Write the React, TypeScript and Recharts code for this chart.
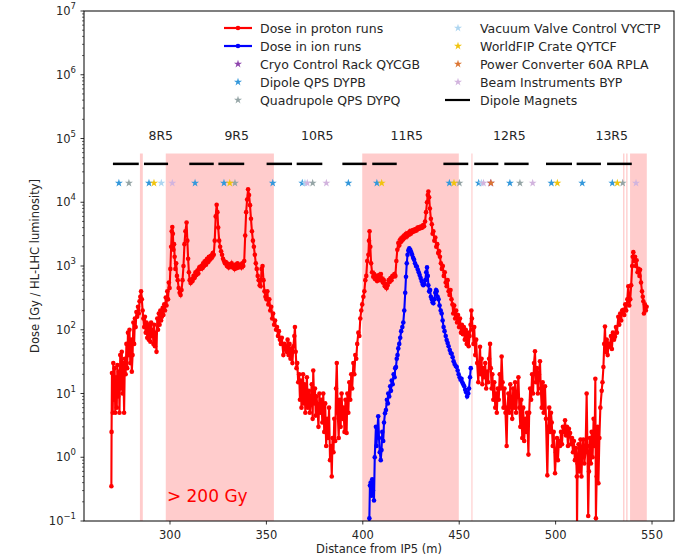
import { ComposedChart, Line, Scatter, XAxis, YAxis, ReferenceArea, ReferenceDot, Symbols } from "recharts";

// measured dose along the beam line, [distance from IP5 (m), dose (Gy / HL-LHC luminosity)]
const protonRuns: [number, number][] = [
  [269.6, 0.35], [269.7, 2.5], [269.9, 21], [270.3, 5], [270.6, 30], [271.0, 8], [271.3, 25], [271.6, 5],
  [272.0, 18], [272.4, 6], [272.7, 28], [273.1, 9], [273.5, 22], [273.8, 5], [274.2, 40], [274.6, 12],
  [275.0, 45], [275.4, 10], [275.8, 30], [276.2, 5], [276.6, 35], [277.0, 20], [277.4, 60], [277.8, 25],
  [278.2, 90], [278.6, 40], [279.0, 100], [279.4, 30], [279.8, 70], [280.2, 22], [280.6, 40], [281.0, 130],
  [281.4, 60], [281.8, 150], [282.2, 110], [282.6, 190], [283.0, 160], [283.4, 230], [283.8, 180], [284.2, 280],
  [284.6, 330], [285.0, 400], [285.4, 300], [285.8, 200], [286.2, 150], [286.6, 110], [287.0, 160], [287.4, 90],
  [287.8, 130], [288.2, 75], [288.6, 120], [289.0, 70], [289.4, 110], [289.8, 65], [290.2, 130], [290.6, 80],
  [291.0, 100], [291.4, 60], [291.8, 120], [292.2, 55], [292.6, 90], [293.0, 45], [293.4, 150], [293.8, 100],
  [294.2, 180], [294.6, 120], [295.0, 200], [295.4, 140], [295.8, 160], [296.2, 220], [296.6, 170], [297.0, 250],
  [297.4, 200], [297.8, 320], [298.2, 240], [298.6, 400], [299.0, 300], [299.4, 550], [299.8, 450], [300.2, 900],
  [300.6, 2000], [300.9, 3500], [301.2, 4100], [301.5, 3200], [301.8, 1800], [302.1, 2200], [302.4, 1400], [302.8, 900],
  [303.2, 1100], [303.6, 700], [304.0, 600], [304.5, 450], [305.0, 380], [305.5, 350], [306.0, 420], [306.5, 600],
  [307.0, 1000], [307.5, 2200], [308.0, 3500], [308.6, 4800], [309.0, 2500], [309.4, 1300], [309.8, 800], [310.2, 600],
  [310.7, 540], [311.2, 620], [311.7, 580], [312.2, 700], [312.7, 650], [313.2, 800], [313.7, 720], [314.2, 850],
  [314.7, 760], [315.2, 950], [315.7, 900], [316.2, 1000], [316.7, 920], [317.2, 1100], [317.7, 1000], [318.2, 1200],
  [318.7, 1050], [319.2, 1300], [319.7, 1150], [320.2, 1400], [320.7, 1250], [321.2, 1450], [321.7, 1350], [322.2, 1600],
  [322.7, 1500], [323.2, 2500], [323.7, 6000], [324.2, 9100], [324.6, 7000], [325.0, 4000], [325.5, 2500], [326.0, 2000],
  [326.5, 1700], [327.0, 1500], [327.5, 1300], [328.0, 1200], [328.5, 1100], [329.0, 1150], [329.5, 1000], [330.0, 1080],
  [330.5, 950], [331.0, 1050], [331.5, 980], [332.0, 1100], [332.5, 950], [333.0, 1000], [333.5, 900], [334.0, 1050],
  [334.5, 920], [335.0, 1100], [335.5, 950], [336.0, 1000], [336.5, 1050], [337.0, 950], [337.5, 1100], [338.0, 1000],
  [338.5, 1200], [339.0, 3000], [339.5, 7000], [340.0, 11000], [340.5, 16000], [341.0, 13000], [341.5, 9000], [342.0, 5500],
  [342.5, 3500], [343.0, 2500], [343.5, 2000], [344.0, 1500], [344.5, 1100], [345.0, 900], [345.5, 700], [346.0, 600],
  [346.5, 500], [347.0, 480], [347.5, 900], [348.0, 1000], [348.5, 600], [349.0, 400], [349.5, 330], [350.0, 300],
  [350.5, 400], [351.0, 250], [351.5, 300], [352.0, 200], [352.5, 230], [353.0, 150], [353.5, 180], [354.0, 120],
  [354.5, 140], [355.0, 100], [355.5, 110], [356.0, 80], [356.5, 95], [357.0, 70], [357.5, 60], [358.0, 75],
  [358.8, 40], [359.3, 60], [359.8, 50], [360.0, 55], [360.5, 45], [361.0, 70], [361.5, 40], [362.0, 60],
  [362.5, 35], [363.0, 50], [363.5, 30], [364.0, 55], [364.5, 80], [364.8, 110], [365.2, 45], [365.6, 25],
  [366.0, 30], [366.5, 15], [367.0, 20], [367.4, 8], [367.8, 16], [368.2, 6], [368.6, 12], [369.0, 20],
  [369.4, 7], [369.8, 14], [370.2, 5], [370.6, 9], [371.0, 18], [371.5, 6], [372.0, 11], [372.5, 5],
  [373.0, 8], [373.5, 14], [374.0, 4], [374.3, 23], [374.8, 7], [375.2, 12], [375.6, 4.5], [376.0, 9],
  [376.5, 6], [377.0, 3], [377.5, 10], [378.0, 5], [378.5, 8], [379.0, 3.5], [379.5, 10], [380.0, 2.5],
  [380.5, 7], [381.0, 1.5], [381.5, 4], [382.0, 2], [382.5, 6], [383.0, 0.9], [383.5, 1.5], [383.9, 0.5],
  [384.3, 2], [384.8, 1.2], [385.2, 4], [385.7, 1.8], [386.1, 12], [386.5, 30], [387.0, 5], [387.5, 2],
  [388.0, 8], [388.5, 3], [389.0, 10], [389.5, 4], [390.0, 6], [390.5, 2.5], [391.0, 8], [391.6, 2.4],
  [392.0, 10], [392.5, 5], [393.0, 15], [393.5, 8], [394.0, 20], [394.5, 12], [395.1, 30], [395.6, 20],
  [396.1, 40], [396.6, 35], [397.1, 60], [397.7, 90], [398.2, 80], [398.7, 150], [399.2, 200], [399.7, 250],
  [400.3, 330], [400.8, 400], [401.3, 600], [401.8, 700], [402.3, 1200], [402.9, 1500], [403.2, 2500], [403.5, 3500],
  [403.9, 2000], [404.3, 1100], [404.8, 800], [405.4, 680], [405.9, 750], [406.4, 620], [406.9, 700], [407.4, 580],
  [407.9, 660], [408.4, 720], [408.9, 600], [409.4, 750], [409.9, 640], [410.4, 550], [410.9, 600], [411.4, 480],
  [411.9, 520], [412.4, 450], [412.9, 500], [413.4, 600], [413.9, 560], [414.4, 650], [414.9, 600], [415.4, 700],
  [415.9, 680], [416.4, 750], [416.9, 700], [417.4, 1200], [417.9, 1800], [418.4, 2300], [418.9, 2100], [419.4, 2600],
  [419.9, 2400], [420.4, 2800], [420.9, 2600], [421.4, 3000], [421.9, 2800], [422.4, 3200], [422.9, 2900], [423.4, 3300],
  [423.9, 3100], [424.4, 3500], [424.9, 3200], [425.4, 3600], [425.9, 3400], [426.4, 3700], [426.9, 3500], [427.4, 3800],
  [427.9, 3600], [428.4, 4000], [428.9, 3800], [429.4, 4100], [429.9, 3900], [430.4, 4200], [430.9, 4000], [431.3, 4400],
  [431.8, 4200], [432.3, 5000], [432.8, 7000], [433.3, 10000], [433.7, 13000], [434.0, 14700], [434.4, 12000], [434.8, 8000],
  [435.3, 5500], [435.8, 4500], [436.2, 3200], [436.6, 3500], [437.1, 2500], [437.6, 2800], [438.1, 2000], [438.6, 2200],
  [439.1, 1600], [439.6, 1700], [440.0, 1400], [440.5, 1100], [441.0, 900], [441.5, 1000], [442.0, 700], [442.5, 800],
  [443.0, 550], [443.5, 480], [444.0, 600], [444.5, 400], [445.0, 350], [445.5, 420], [446.0, 300], [446.5, 250],
  [446.9, 180], [447.4, 240], [447.9, 150], [448.4, 200], [448.9, 130], [449.4, 170], [449.9, 110], [450.4, 150],
  [450.9, 90], [451.4, 120], [451.9, 85], [452.4, 110], [452.9, 70], [453.4, 100], [453.9, 60], [454.4, 90],
  [454.9, 55], [455.4, 80], [455.9, 120], [456.3, 200], [456.6, 150], [457.0, 100], [457.4, 60], [457.8, 110],
  [458.3, 40], [458.8, 70], [459.3, 30], [459.9, 15], [460.3, 30], [460.8, 54], [461.2, 20], [461.6, 35],
  [462.0, 14], [462.5, 25], [463.0, 18], [463.5, 30], [464.0, 12], [464.5, 22], [465.0, 15], [465.5, 35],
  [466.0, 60], [466.4, 25], [466.8, 12], [467.2, 20], [467.7, 8], [468.2, 15], [468.7, 6], [469.2, 10],
  [469.5, 5], [470.0, 12], [470.5, 8], [471.0, 20], [471.5, 12], [472.0, 38], [472.5, 15], [473.0, 6],
  [473.5, 12], [474.0, 5], [474.6, 1.5], [475.0, 6], [475.5, 10], [476.0, 5], [476.5, 14], [477.0, 7],
  [477.5, 4], [478.0, 12], [478.5, 6], [479.0, 15], [479.5, 5], [480.0, 9], [480.7, 18], [481.2, 6],
  [481.7, 3], [482.2, 8], [482.7, 2], [483.2, 6], [483.7, 1.8], [484.2, 4], [484.7, 2.5], [485.2, 5],
  [485.9, 1.1], [486.3, 5], [486.8, 12], [487.3, 8], [487.8, 20], [488.3, 10], [488.8, 30], [489.3, 46],
  [489.8, 15], [490.3, 25], [490.8, 10], [491.3, 20], [491.9, 32], [492.3, 12], [492.8, 6], [493.3, 15],
  [493.8, 5], [494.5, 13], [495.0, 4], [495.7, 0.52], [496.2, 3], [496.7, 6], [497.2, 2.5], [497.6, 5],
  [498.0, 3.5], [498.5, 1.5], [499.0, 2.5], [499.7, 0.56], [500.2, 1.2], [500.7, 2], [501.2, 0.9], [501.7, 1.8],
  [502.3, 1.5], [502.8, 2.5], [503.3, 1.6], [503.8, 3], [504.3, 2.5], [504.9, 3.8], [505.4, 2.2], [505.9, 3],
  [506.4, 1.5], [506.9, 2.8], [507.5, 2.4], [508.0, 1.6], [508.5, 2], [509.0, 1.2], [509.5, 1.8], [510.0, 0.9],
  [510.5, 1.4], [511.0, 0.5], [511.1, 0.07], [511.4, 0.8], [511.9, 1.6], [512.4, 0.6], [512.9, 1.9], [513.4, 0.5],
  [513.9, 1.4], [514.4, 1.9], [514.9, 0.8], [515.5, 1.2], [516.1, 10], [516.5, 1.5], [516.9, 0.12], [517.3, 0.6],
  [517.8, 2], [518.3, 0.8], [518.7, 2.5], [519.2, 1], [519.7, 4], [520.2, 1.5], [520.6, 17], [520.9, 0.11],
  [521.3, 0.5], [521.8, 3], [522.2, 0.39], [522.7, 2], [523.2, 6], [523.9, 11], [524.3, 15], [524.8, 26],
  [525.2, 60], [525.6, 112], [526.0, 45], [526.5, 70], [527.0, 40], [527.5, 60], [528.2, 54], [528.7, 80],
  [529.2, 50], [529.7, 90], [530.3, 70], [530.8, 78], [531.3, 110], [531.8, 90], [532.5, 160], [533.0, 120],
  [533.5, 180], [534.0, 140], [534.5, 200], [535.1, 205], [535.6, 170], [536.1, 250], [536.6, 200], [537.2, 300],
  [537.7, 480], [538.2, 240], [538.7, 300], [539.2, 500], [539.7, 1000], [540.0, 1400], [540.3, 1650], [540.7, 1200],
  [541.2, 1400], [541.6, 1000], [542.0, 1230], [542.5, 800], [543.0, 900], [543.5, 700], [543.8, 870], [544.3, 550],
  [544.8, 400], [545.2, 330], [545.5, 280], [545.8, 180], [546.3, 250], [546.8, 200], [547.2, 230],
];

const ionRuns: [number, number][] = [
  [403.3, 0.09], [403.4, 0.11], [403.7, 0.36], [404.1, 0.4], [404.5, 0.25], [404.9, 0.45], [405.3, 0.3], [405.8, 0.21],
  [406.2, 1.0], [406.8, 3], [407.1, 1.5], [407.5, 2.5], [408.0, 4.4], [408.4, 2], [408.8, 1.2], [409.3, 0.9],
  [409.7, 1.3], [410.1, 2.5], [410.6, 1.8], [411.0, 3.5], [411.5, 4.9], [412.0, 5.5], [412.5, 8], [413.0, 7],
  [413.2, 10], [413.7, 9], [414.2, 13], [414.6, 11], [415.0, 16], [415.5, 14], [416.0, 20], [416.5, 18],
  [416.8, 25], [417.2, 26], [417.6, 35], [418.0, 40], [418.4, 51], [418.9, 60], [419.4, 75], [419.9, 95],
  [420.5, 110], [421.0, 130], [421.5, 200], [422.0, 380], [422.4, 680], [422.8, 1100], [423.2, 1500], [423.6, 1750],
  [424.1, 1900], [424.6, 1800], [425.1, 1650], [425.6, 1500], [426.1, 1350], [426.6, 1250], [427.1, 1100], [427.6, 1000],
  [428.0, 980], [428.5, 880], [429.0, 800], [429.5, 720], [430.0, 650], [430.5, 580], [431.0, 520], [431.4, 500],
  [431.9, 520], [432.4, 600], [432.9, 800], [433.3, 950], [433.7, 700], [434.0, 500], [434.4, 400], [434.9, 420],
  [435.3, 330], [435.8, 300], [436.2, 270], [436.6, 260], [437.1, 300], [437.6, 380], [438.0, 420], [438.3, 400],
  [438.8, 330], [439.3, 300], [439.8, 240], [440.4, 200], [440.9, 180], [441.4, 140], [441.9, 110], [442.4, 95],
  [443.0, 80], [443.5, 69], [444.0, 62], [444.5, 55], [445.1, 48], [445.6, 43], [446.1, 42], [446.6, 37],
  [447.1, 32], [447.6, 29], [448.2, 27], [448.7, 26], [449.2, 23], [449.7, 20], [450.2, 18], [450.7, 16.5],
  [451.2, 17], [451.6, 15], [452.1, 14], [452.6, 13], [453.1, 11.5], [453.6, 10.5], [454.1, 9], [454.7, 10],
  [455.1, 12], [455.6, 18], [456.0, 25],
];

// "> 200 Gy" zones
const hotZones: [number, number][] = [
  [284.4, 285.9], [297.8, 353.9], [399.7, 449.8], [456.3, 456.9], [535.0, 535.7], [536.6, 537.3], [538.6, 547.3],
];
const hotZoneTop = 5.8e4;

// dipole magnets, [start, end]
const magnetLevel = 4e4;
const dipoleMagnets: [number, number][] = [
  [270.4, 283.8], [286.5, 299.0], [310.0, 322.7], [325.1, 338.5], [350.1, 363.3], [365.7, 379.0], [389.4, 402.0],
  [404.9, 417.6], [441.8, 454.7], [457.8, 470.3], [473.4, 486.0], [495.0, 508.5], [510.9, 523.5], [526.7, 539.5],
];

const cellLabels = ["8R5", "9R5", "10R5", "11R5", "12R5", "13R5"];
const cellCentres = [295.2, 334.6, 376.4, 422.8, 476.0, 529.1];
const cellLabelLevel = 1.13e5;

// electronics positions
const equipLevel = 2e4;
const cryoRack = [466.3];
const dipoleQps = [273.5, 289.1, 313.0, 328.0, 353.3, 368.6, 392.5, 407.3, 444.9, 460.1, 476.3, 497.8, 513.8, 529.4];
const quadQps = [278.7, 333.7, 374.0, 450.1, 481.5, 534.8];
const vacuumValve = [295.5, 370.0, 461.5];
const worldFip = [291.7, 331.0, 409.8, 447.3, 500.9, 532.0];
const powerConverter = [466.5];
const beamInstr = [301.2, 371.2, 381.1, 462.6, 488.1, 541.7];

const xTicks = [300, 350, 400, 450, 500, 550];
const decades = [-1, 0, 1, 2, 3, 4, 5, 6, 7];

const RED = "#ff0000";
const BLUE = "#0000ff";
const C_CRYO = "#8e44ad";
const C_DYPB = "#3498db";
const C_DYPQ = "#95a5a6";
const C_VAC = "#aed6f1";
const C_FIP = "#f1c40f";
const C_RPLA = "#dc7633";
const C_BYP = "#d2b4de";

const FONT = "DejaVu Sans";

const yTicks: number[] = [];
decades.forEach((d) => {
  yTicks.push(Math.pow(10, d));
  if (d < 7) for (let m = 2; m <= 9; m++) yTicks.push(m * Math.pow(10, d));
});

const toPts = (arr: [number, number][]) => arr.map(([pos, dose]) => ({ pos, dose }));
const starPts = (arr: number[]) => arr.map((pos) => ({ pos, dose: equipLevel }));

const YTick = (props: any) => {
  const { x, y, payload } = props;
  const v = payload.value;
  const lg = Math.log10(v);
  const major = Math.abs(lg - Math.round(lg)) < 1e-6;
  if (!major) return <line x1={x - 2} x2={x} y1={y} y2={y} stroke="#000" strokeWidth={0.6} />;
  const e = Math.round(lg);
  return (
    <g>
      <line x1={x - 3.5} x2={x} y1={y} y2={y} stroke="#000" strokeWidth={0.8} />
      <text x={x - 8} y={y + 4} textAnchor="end" fontFamily={FONT} fontSize={11.5} fill="#262626">
        <tspan>10</tspan>
        <tspan dy={-6} fontSize={8.5}>{e < 0 ? "\u2212" + -e : String(e)}</tspan>
      </text>
    </g>
  );
};

const XTick = (props: any) => {
  const { x, y, payload } = props;
  return (
    <g>
      <line x1={x} x2={x} y1={y} y2={y + 3.5} stroke="#000" strokeWidth={0.8} />
      <text x={x} y={y + 18} textAnchor="middle" fontFamily={FONT} fontSize={11.5} fill="#262626">
        {payload.value}
      </text>
    </g>
  );
};

const star = (color: string) => (p: any) => <Symbols cx={p.cx} cy={p.cy} type="star" size={20} fill={color} />;

const starSeries: [number[], string][] = [
  [cryoRack, C_CRYO],
  [dipoleQps, C_DYPB],
  [quadQps, C_DYPQ],
  [vacuumValve, C_VAC],
  [worldFip, C_FIP],
  [powerConverter, C_RPLA],
  [beamInstr, C_BYP],
];

const legendLeft = [
  { label: "Dose in proton runs", color: RED, kind: "line" },
  { label: "Dose in ion runs", color: BLUE, kind: "line" },
  { label: "Cryo Control Rack QYCGB", color: C_CRYO, kind: "star" },
  { label: "Dipole QPS DYPB", color: C_DYPB, kind: "star" },
  { label: "Quadrupole QPS DYPQ", color: C_DYPQ, kind: "star" },
];
const legendRight = [
  { label: "Vacuum Valve Control VYCTP", color: C_VAC, kind: "star" },
  { label: "WorldFIP Crate QYTCF", color: C_FIP, kind: "star" },
  { label: "Power Converter 60A RPLA", color: C_RPLA, kind: "star" },
  { label: "Beam Instruments BYP", color: C_BYP, kind: "star" },
  { label: "Dipole Magnets", color: "#000", kind: "bar" },
];

const LegendItem = ({ item, x, y }: any) => (
  <g>
    {item.kind === "line" && (
      <g>
        <line x1={x - 14} x2={x + 14} y1={y} y2={y} stroke={item.color} strokeWidth={2.2} />
        <circle cx={x} cy={y} r={2.3} fill={item.color} />
      </g>
    )}
    {item.kind === "star" && <Symbols cx={x} cy={y} type="star" size={20} fill={item.color} />}
    {item.kind === "bar" && <line x1={x - 13} x2={x + 12} y1={y} y2={y} stroke="#000" strokeWidth={2.2} />}
    <text x={x + 22} y={y + 4.5} fontFamily={FONT} fontSize={12.5} fill="#262626">
      {item.label}
    </text>
  </g>
);

export default function App() {
  return (
    <div style={{ position: "absolute", left: 0, top: 0, width: 690, height: 559, background: "#fff" }}>
      <ComposedChart width={690} height={559} margin={{ top: 11, right: 16, left: 0, bottom: 0 }}>
        <XAxis
          dataKey="pos"
          type="number"
          domain={[255.4, 561.4]}
          allowDataOverflow
          ticks={xTicks}
          interval={0}
          height={38}
          tickSize={0}
          tickMargin={0}
          tickLine={false}
          axisLine={false}
          tick={<XTick />}
        />
        <YAxis
          dataKey="dose"
          scale="log"
          domain={[0.1, 1e7]}
          allowDataOverflow
          ticks={yTicks}
          interval={0}
          width={84}
          tickSize={0}
          tickMargin={0}
          tickLine={false}
          axisLine={false}
          tick={<YTick />}
        />
        {hotZones.map(([a, b], i) => (
          <ReferenceArea key={"z" + i} x1={a} x2={b} y1={0.1} y2={hotZoneTop} fill={RED} fillOpacity={0.2} stroke="none" />
        ))}
        {dipoleMagnets.map(([a, b], i) => (
          <Line
            key={"m" + i}
            data={[{ pos: a, dose: magnetLevel }, { pos: b, dose: magnetLevel }]}
            dataKey="dose"
            stroke="#000"
            strokeWidth={2.5}
            dot={false}
            activeDot={false}
            isAnimationActive={false}
          />
        ))}
        {starSeries.map(([arr, color], i) => (
          <Scatter key={"s" + i} data={starPts(arr)} dataKey="dose" shape={star(color)} isAnimationActive={false} />
        ))}
        <Line
          data={toPts(protonRuns)}
          dataKey="dose"
          stroke={RED}
          strokeWidth={2.1}
          dot={{ r: 2.3, fill: RED, stroke: "none" }}
          activeDot={false}
          isAnimationActive={false}
        />
        <Line
          data={toPts(ionRuns)}
          dataKey="dose"
          stroke={BLUE}
          strokeWidth={2.1}
          dot={{ r: 2.3, fill: BLUE, stroke: "none" }}
          activeDot={false}
          isAnimationActive={false}
        />
        {cellLabels.map((lab, i) => (
          <ReferenceDot
            key={"c" + i}
            x={cellCentres[i]}
            y={cellLabelLevel}
            shape={(p: any) => (
              <text x={p.cx} y={p.cy + 4.5} textAnchor="middle" fontFamily={FONT} fontSize={12.5} fill="#262626">
                {lab}
              </text>
            )}
          />
        ))}
        <ReferenceDot
          x={298.4}
          y={0.25}
          shape={(p: any) => (
            <text x={p.cx} y={p.cy + 6} fontFamily={FONT} fontSize={17} fill={RED}>
              {"> 200 Gy"}
            </text>
          )}
        />
      </ComposedChart>
      <svg width={690} height={559} style={{ position: "absolute", left: 0, top: 0, pointerEvents: "none" }}>
        <rect x={84} y={11} width={590} height={510} fill="none" stroke="#000" strokeWidth={1} />
        {legendLeft.map((it, i) => (
          <LegendItem key={"l" + i} item={it} x={238} y={28 + i * 18} />
        ))}
        {legendRight.map((it, i) => (
          <LegendItem key={"r" + i} item={it} x={458} y={28 + i * 18} />
        ))}
        <text x={379} y={553} textAnchor="middle" fontFamily={FONT} fontSize={11.5} fill="#262626">
          Distance from IP5 (m)
        </text>
        <text
          x={0}
          y={0}
          transform="translate(39,266) rotate(-90)"
          textAnchor="middle"
          fontFamily={FONT}
          fontSize={11.5}
          fill="#262626"
        >
          Dose [Gy / HL-LHC luminosity]
        </text>
      </svg>
    </div>
  );
}
